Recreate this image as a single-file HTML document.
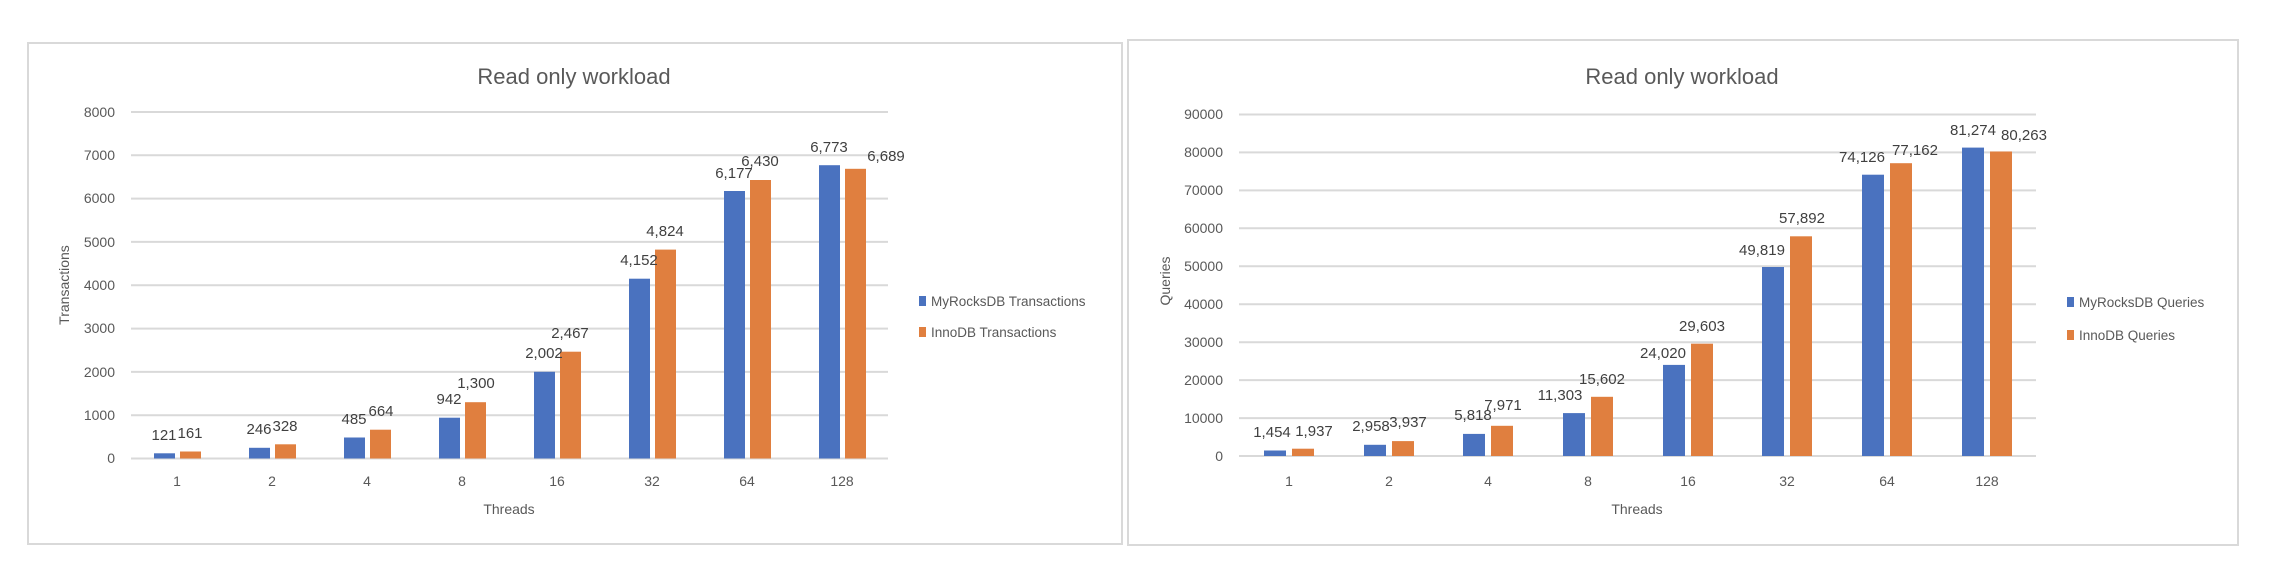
<!DOCTYPE html>
<html><head><meta charset="utf-8"><style>
html,body{margin:0;padding:0;background:#fff;}
svg{display:block;font-family:"Liberation Sans",sans-serif;}
</style></head><body>
<svg width="2286" height="580" viewBox="0 0 2286 580" xmlns="http://www.w3.org/2000/svg">
<rect x="0" y="0" width="2286" height="580" fill="#fff"/>
<!-- Chart 1 -->
<rect x="28" y="43" width="1094" height="501" fill="#fff" stroke="#d9d9d9" stroke-width="2"/>
<text x="574" y="84" font-size="22" fill="#595959" text-anchor="middle">Read only workload</text>
<g stroke="#d9d9d9" stroke-width="2">
<line x1="131" x2="888" y1="112" y2="112"/><line x1="131" x2="888" y1="155.3" y2="155.3"/>
<line x1="131" x2="888" y1="198.6" y2="198.6"/><line x1="131" x2="888" y1="241.9" y2="241.9"/>
<line x1="131" x2="888" y1="285.3" y2="285.3"/><line x1="131" x2="888" y1="328.6" y2="328.6"/>
<line x1="131" x2="888" y1="371.9" y2="371.9"/><line x1="131" x2="888" y1="415.2" y2="415.2"/>
<line x1="131" x2="888" y1="458.5" y2="458.5"/>
</g>
<g font-size="14" fill="#595959" text-anchor="end">
<text x="115" y="117">8000</text><text x="115" y="160">7000</text><text x="115" y="203">6000</text>
<text x="115" y="247">5000</text><text x="115" y="290">4000</text><text x="115" y="333">3000</text>
<text x="115" y="377">2000</text><text x="115" y="420">1000</text><text x="115" y="463">0</text>
</g>
<g fill="#4a72bf">
<rect x="154" y="453.3" width="21" height="5.2"/><rect x="249" y="447.8" width="21" height="10.7"/>
<rect x="344" y="437.5" width="21" height="21"/><rect x="439" y="417.7" width="21" height="40.8"/>
<rect x="534" y="371.8" width="21" height="86.7"/><rect x="629" y="278.7" width="21" height="179.8"/>
<rect x="724" y="191" width="21" height="267.5"/><rect x="819" y="165.2" width="21" height="293.3"/>
</g>
<g fill="#e07f3f">
<rect x="180" y="451.5" width="21" height="7"/><rect x="275" y="444.3" width="21" height="14.2"/>
<rect x="370" y="429.7" width="21" height="28.8"/><rect x="465" y="402.2" width="21" height="56.3"/>
<rect x="560" y="351.7" width="21" height="106.8"/><rect x="655" y="249.6" width="21" height="208.9"/>
<rect x="750" y="180" width="21" height="278.5"/><rect x="845" y="168.8" width="21" height="289.7"/>
</g>
<g font-size="15" fill="#404040" text-anchor="middle">
<text x="164" y="440">121</text><text x="190" y="438">161</text>
<text x="259" y="434">246</text><text x="285" y="431">328</text>
<text x="354" y="424">485</text><text x="381" y="416">664</text>
<text x="449" y="404">942</text><text x="476" y="388">1,300</text>
<text x="544" y="358">2,002</text><text x="570" y="338">2,467</text>
<text x="639" y="265">4,152</text><text x="665" y="236">4,824</text>
<text x="734" y="178">6,177</text><text x="760" y="166">6,430</text>
<text x="829" y="152">6,773</text><text x="886" y="161">6,689</text>
</g>
<g font-size="14" fill="#595959" text-anchor="middle">
<text x="177" y="486">1</text><text x="272" y="486">2</text><text x="367" y="486">4</text><text x="462" y="486">8</text>
<text x="557" y="486">16</text><text x="652" y="486">32</text><text x="747" y="486">64</text><text x="842" y="486">128</text>
<text x="509" y="514">Threads</text>
<text transform="translate(69,285) rotate(-90)">Transactions</text>
</g>
<rect x="919" y="296" width="7" height="10" fill="#4a72bf"/>
<rect x="919" y="327" width="7" height="10" fill="#e07f3f"/>
<g font-size="13.5" fill="#595959">
<text x="931" y="306">MyRocksDB Transactions</text>
<text x="931" y="337">InnoDB Transactions</text>
</g>
<!-- Chart 2 -->
<rect x="1128" y="40" width="1110" height="505" fill="#fff" stroke="#d9d9d9" stroke-width="2"/>
<text x="1682" y="84" font-size="22" fill="#595959" text-anchor="middle">Read only workload</text>
<g stroke="#d9d9d9" stroke-width="2">
<line x1="1239" x2="2036" y1="114.5" y2="114.5"/><line x1="1239" x2="2036" y1="152.4" y2="152.4"/>
<line x1="1239" x2="2036" y1="190.4" y2="190.4"/><line x1="1239" x2="2036" y1="228.3" y2="228.3"/>
<line x1="1239" x2="2036" y1="266.3" y2="266.3"/><line x1="1239" x2="2036" y1="304.2" y2="304.2"/>
<line x1="1239" x2="2036" y1="342.2" y2="342.2"/><line x1="1239" x2="2036" y1="380.1" y2="380.1"/>
<line x1="1239" x2="2036" y1="418.1" y2="418.1"/><line x1="1239" x2="2036" y1="456" y2="456"/>
</g>
<g font-size="14" fill="#595959" text-anchor="end">
<text x="1223" y="119">90000</text><text x="1223" y="157">80000</text><text x="1223" y="195">70000</text>
<text x="1223" y="233">60000</text><text x="1223" y="271">50000</text><text x="1223" y="309">40000</text>
<text x="1223" y="347">30000</text><text x="1223" y="385">20000</text><text x="1223" y="423">10000</text>
<text x="1223" y="461">0</text>
</g>
<g fill="#4a72bf">
<rect x="1264" y="450.5" width="22" height="5.5"/><rect x="1364" y="444.8" width="22" height="11.2"/>
<rect x="1463" y="433.9" width="22" height="22.1"/><rect x="1563" y="413.1" width="22" height="42.9"/>
<rect x="1663" y="364.9" width="22" height="91.1"/><rect x="1762" y="267" width="22" height="189"/>
<rect x="1862" y="174.7" width="22" height="281.3"/><rect x="1962" y="147.6" width="22" height="308.4"/>
</g>
<g fill="#e07f3f">
<rect x="1292" y="448.7" width="22" height="7.3"/><rect x="1392" y="441.1" width="22" height="14.9"/>
<rect x="1491" y="425.8" width="22" height="30.2"/><rect x="1591" y="396.8" width="22" height="59.2"/>
<rect x="1691" y="343.7" width="22" height="112.3"/><rect x="1790" y="236.3" width="22" height="219.7"/>
<rect x="1890" y="163.2" width="22" height="292.8"/><rect x="1990" y="151.5" width="22" height="304.5"/>
</g>
<g font-size="15" fill="#404040" text-anchor="middle">
<text x="1272" y="437">1,454</text><text x="1314" y="436">1,937</text>
<text x="1371" y="431">2,958</text><text x="1408" y="427">3,937</text>
<text x="1473" y="420">5,818</text><text x="1503" y="410">7,971</text>
<text x="1560" y="400">11,303</text><text x="1602" y="384">15,602</text>
<text x="1663" y="358">24,020</text><text x="1702" y="331">29,603</text>
<text x="1762" y="255">49,819</text><text x="1802" y="223">57,892</text>
<text x="1862" y="162">74,126</text><text x="1915" y="155">77,162</text>
<text x="1973" y="135">81,274</text><text x="2024" y="140">80,263</text>
</g>
<g font-size="14" fill="#595959" text-anchor="middle">
<text x="1289" y="486">1</text><text x="1389" y="486">2</text><text x="1488" y="486">4</text><text x="1588" y="486">8</text>
<text x="1688" y="486">16</text><text x="1787" y="486">32</text><text x="1887" y="486">64</text><text x="1987" y="486">128</text>
<text x="1637" y="514">Threads</text>
<text transform="translate(1170,281) rotate(-90)">Queries</text>
</g>
<rect x="2067" y="297" width="7" height="10" fill="#4a72bf"/>
<rect x="2067" y="330" width="7" height="10" fill="#e07f3f"/>
<g font-size="13.5" fill="#595959">
<text x="2079" y="307">MyRocksDB Queries</text>
<text x="2079" y="340">InnoDB Queries</text>
</g>
</svg>
</body></html>
